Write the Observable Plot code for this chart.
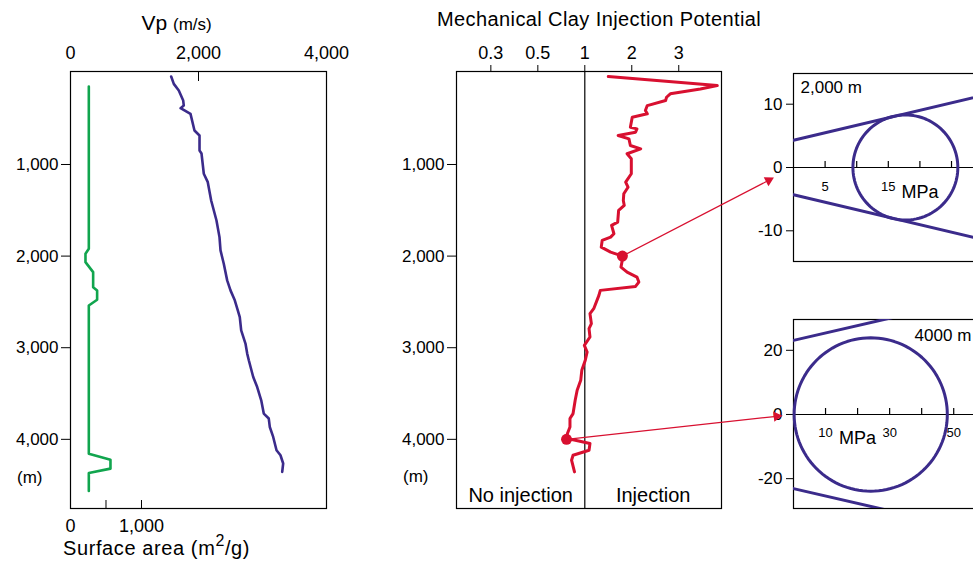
<!DOCTYPE html>
<html>
<head>
<meta charset="utf-8">
<script src="https://cdn.jsdelivr.net/npm/d3@7"></script>
<script src="https://cdn.jsdelivr.net/npm/@observablehq/plot@0.6"></script>
<style>
  html, body { margin: 0; padding: 0; background: #fff; overflow: hidden; }
  #chart { position: relative; width: 973px; height: 563px; overflow: hidden;
           font-family: "Liberation Sans", Arial, Helvetica, sans-serif; color: #000; }
  #chart > svg, #chart > .lbl { position: absolute; }
  .lbl { line-height: 1; white-space: nowrap; }
</style>
</head>
<body>
<div id="chart"></div>
<script>
// ---- Well log data (depth in m) ----
const depthTicks = [1000, 2000, 3000, 4000];
const depthDomain = [-15, 4755];

// Surface area of the clay fraction, m²/g: [depth, area]
const surfaceArea = [
  [150, 258], [1920, 258], [1975, 211], [2066, 211], [2175, 319], [2339, 319],
  [2375, 375], [2476, 375], [2539, 258], [4157, 258], [4222, 563], [4320, 563],
  [4368, 258], [4564, 258]
];
const areaTickMarks = [500, 1000];
const areaTickLabels = [0, 1000];

// P-wave velocity, m/s: [depth, vp]
const vpLog = [
  [40, 1573], [120, 1614], [193, 1692], [302, 1761], [357, 1770], [385, 1720],
  [447, 1875], [629, 1937], [684, 2016], [847, 2016], [880, 2047], [1101, 2083],
  [1193, 2145], [1393, 2198], [1611, 2281], [1793, 2328], [1938, 2344], [2083, 2395],
  [2265, 2448], [2374, 2500], [2483, 2567], [2592, 2614], [2665, 2645], [2810, 2667],
  [2955, 2734], [3064, 2761], [3137, 2786], [3320, 2855], [3429, 2917], [3574, 2980],
  [3719, 3020], [3773, 3098], [3865, 3114], [3974, 3167], [4119, 3219], [4174, 3281],
  [4264, 3323], [4355, 3308]
];
const vpTickLabels = [0, 2000, 4000];
const vpTickMarks = [2000];

// Mechanical clay injection potential (ratio): [depth, potential]
const injectionPotential = [
  [40, 1.50], [138, 3.82], [175, 3.46], [229, 2.82], [266, 2.74], [302, 2.72],
  [357, 2.33], [411, 2.29], [447, 2.33], [484, 2.01], [593, 1.97], [611, 2.11],
  [648, 2.08], [684, 1.71], [720, 1.94], [793, 1.97], [829, 2.19], [883, 1.90],
  [938, 1.99], [1101, 1.99], [1193, 1.87], [1248, 1.92], [1320, 1.83], [1393, 1.82],
  [1447, 1.84], [1502, 1.72], [1629, 1.70], [1665, 1.57], [1756, 1.62], [1793, 1.55],
  [1829, 1.37], [1902, 1.35], [1956, 1.55], [2000, 1.80], [2040, 1.80], [2120, 1.77],
  [2175, 1.90], [2229, 2.11], [2283, 2.15], [2331, 2.08], [2374, 1.33], [2429, 1.30],
  [2574, 1.19], [2628, 1.11], [2738, 1.14], [2792, 1.09], [2883, 1.11], [2974, 0.99],
  [3047, 1.05], [3137, 1.01], [3247, 0.94], [3356, 0.92], [3465, 0.86], [3574, 0.83],
  [3719, 0.80], [3773, 0.76], [3865, 0.76], [3937, 0.73], [4000, 0.72], [4005, 0.80],
  [4045, 1.11], [4119, 1.09], [4174, 0.80], [4228, 0.78], [4355, 0.82]
];
const potentialDomain = [0.268, 3.91];
const potentialTicks = [1 / 3, 0.5, 1, 2, 3];
const potentialTickLabels = ["0.3", "0.5", "1", "2", "3"];
const zones = [
  {label: "No injection", from: potentialDomain[0], to: 1},
  {label: "Injection", from: 1, to: potentialDomain[1]}
];
// Sampled depths shown as Mohr circles
const samples = [{depth: 2000, p: 1.80}, {depth: 4000, p: 0.72}];

// Mohr circles (MPa) with their failure envelopes
const mohr2000 = {label: "2,000 m", sigma3: 9.4, sigma1: 26.0, cohesion: 4.3, friction: 0.237};
const mohr4000 = {label: "4000 m", sigma3: 0.2, sigma1: 48.0, cohesion: 23.1, friction: 0.23};

// ---- Styling ----
const FONT = '"Liberation Sans", Arial, Helvetica, sans-serif';
const GREEN = "#11a54e", PURPLE = "#3b2b8b", RED = "#d81030";
const baseStyle = {fontFamily: FONT, fontSize: "17px", background: "transparent", color: "#000"};
const thousands = d3.format(",");
const chart = document.getElementById("chart");

function place(node, left, top) {
  node.style.left = left + "px";
  node.style.top = top + "px";
  chart.appendChild(node);
  return node;
}
function label(html, left, top, size, extra = "") {
  const div = document.createElement("div");
  div.className = "lbl";
  div.innerHTML = html;
  div.style.cssText = `font-size:${size}px;${extra}`;
  return place(div, left, top);
}

const rows = (arr, key) => arr.map(([depth, v]) => ({depth, [key]: v}));

// ---- Panel 1: surface area (bottom axis) and Vp (top axis) ----
const logFrame = {width: 370, height: 563, marginTop: 71, marginRight: 44, marginBottom: 55, marginLeft: 70, style: baseStyle};

const areaPlot = Plot.plot({
  ...logFrame,
  x: {domain: [0, 3606]},
  y: {domain: depthDomain, reverse: true},
  marks: [
    Plot.frame({strokeWidth: 1.2}),
    Plot.axisY({ticks: depthTicks, tickFormat: thousands, tickSize: 9, tickPadding: 3, label: null}),
    Plot.axisX({anchor: "bottom", ticks: areaTickMarks, tickSize: 8, dy: -8, tickFormat: () => "", label: null}),
    Plot.axisX({anchor: "bottom", ticks: areaTickLabels, tickSize: 0, tickPadding: 11, tickFormat: thousands, label: null, fontSize: 18}),
    Plot.line(rows(surfaceArea, "area"), {x: "area", y: "depth", stroke: GREEN, strokeWidth: 2.6})
  ]
});
place(areaPlot, 0, 0);

const vpPlot = Plot.plot({
  ...logFrame,
  x: {domain: [0, 4000]},
  y: {domain: depthDomain, reverse: true, axis: null},
  marks: [
    Plot.axisX({anchor: "top", ticks: vpTickLabels, tickSize: 0, tickPadding: 13, tickFormat: thousands, label: null, fontSize: 18}),
    Plot.axisX({anchor: "top", ticks: vpTickMarks, tickSize: 9, dy: 9, tickFormat: () => "", label: null}),
    Plot.line(rows(vpLog, "vp"), {x: "vp", y: "depth", stroke: PURPLE, strokeWidth: 2.6})
  ]
});
place(vpPlot, 0, 0);

// ---- Panel 2: injection potential on a symmetric ratio axis ----
const toRatioAxis = (p) => (p >= 1 ? p - 1 : 1 - 1 / p);
const tickText = new Map(potentialTicks.map((p, i) => [Math.round(toRatioAxis(p) * 1e6), potentialTickLabels[i]]));

const potentialPlot = Plot.plot({
  width: 360, height: 563, marginTop: 71, marginRight: 19, marginBottom: 55, marginLeft: 76,
  style: baseStyle,
  x: {domain: potentialDomain.map(toRatioAxis)},
  y: {domain: depthDomain, reverse: true},
  marks: [
    Plot.frame({strokeWidth: 1.2}),
    Plot.ruleX([1], {x: toRatioAxis, strokeWidth: 1.2}),
    Plot.axisY({ticks: depthTicks, tickFormat: thousands, tickSize: 9, tickPadding: 3, label: null}),
    Plot.axisX({anchor: "top", ticks: potentialTicks.map(toRatioAxis), tickSize: 7, tickPadding: 6,
                tickFormat: (u) => tickText.get(Math.round(u * 1e6)), label: null, fontSize: 18}),
    Plot.text(zones, {x: (d) => (toRatioAxis(d.from) + toRatioAxis(d.to)) / 2, text: "label",
                      frameAnchor: "bottom", lineAnchor: "bottom", dy: -7, fontSize: 20}),
    Plot.line(rows(injectionPotential, "p"), {x: (d) => toRatioAxis(d.p), y: "depth", stroke: RED, strokeWidth: 3}),
    Plot.dot(samples, {x: (d) => toRatioAxis(d.p), y: "depth", r: 5.5, fill: RED})
  ]
});
place(potentialPlot, 380, 0);

// ---- Mohr circle panels ----
function mohrPanel(m, o) {
  const center = (m.sigma1 + m.sigma3) / 2, radius = (m.sigma1 - m.sigma3) / 2;
  const circle = d3.range(0, 361, 3).map((a) => ({
    s: center + radius * Math.cos((a * Math.PI) / 180),
    t: radius * Math.sin((a * Math.PI) / 180)
  }));
  const sMax = o.xDomain[1];
  const upper = [{s: 0, t: m.cohesion}, {s: sMax, t: m.cohesion + m.friction * sMax}];
  const lower = upper.map((d) => ({s: d.s, t: -d.t}));
  return Plot.plot({
    width: 260, height: o.height, marginTop: o.marginTop, marginBottom: o.marginBottom,
    marginLeft: 53, marginRight: 0,
    style: baseStyle,
    x: {domain: o.xDomain, axis: null},
    y: {domain: o.yDomain},
    marks: [
      Plot.frame({strokeWidth: 1.2}),
      Plot.ruleY([0], {strokeWidth: 1.2}),
      Plot.ruleX(o.xTicks, {x: (d) => d, y1: 0, y2: 0, insetTop: -6, strokeWidth: 1.2}),
      Plot.axisY({ticks: o.yTicks, tickFormat: (d) => String(d), tickSize: 7, tickPadding: 4, label: null}),
      Plot.text(o.xLabels, {x: (d) => d, y: 0, text: (d) => String(d), dy: 23, lineAnchor: "bottom", fontSize: 13}),
      Plot.text(["MPa"], {x: o.unitAt, y: 0, text: (d) => d, dy: 30, lineAnchor: "bottom", fontSize: 18}),
      Plot.line(upper, {x: "s", y: "t", stroke: PURPLE, strokeWidth: 3, clip: true}),
      Plot.line(lower, {x: "s", y: "t", stroke: PURPLE, strokeWidth: 3, clip: true}),
      Plot.line(circle, {x: "s", y: "t", stroke: PURPLE, strokeWidth: 3}),
      Plot.text([m.label], {text: (d) => d, ...o.labelPos, lineAnchor: "top", textAnchor: "start", fontSize: 17})
    ]
  });
}

const mohrTop = mohrPanel(mohr2000, {
  height: 280, marginTop: 73, marginBottom: 19,
  xDomain: [0, 32.75], yDomain: [-14.85, 14.85],
  xTicks: [5, 10, 15, 20, 25], xLabels: [5, 15], unitAt: 20, yTicks: [-10, 0, 10],
  labelPos: {frameAnchor: "top-left", dx: 7, dy: 7}
});
place(mohrTop, 740, 0);

const mohrBottom = mohrPanel(mohr4000, {
  height: 220, marginTop: 19, marginBottom: 12,
  xDomain: [0, 64.6], yDomain: [-29.3, 29.6],
  xTicks: [10, 20, 30, 40, 50], xLabels: [10, 30, 50], unitAt: 20, yTicks: [-20, 0, 20],
  labelPos: {x: 37.8, frameAnchor: "top", dy: 9}
});
place(mohrBottom, 740, 300);

// ---- Arrows from each sampled depth to the origin of its Mohr diagram ----
const arrowTargets = [
  {plot: mohrTop, left: 740, top: 0, standoff: 22},
  {plot: mohrBottom, left: 740, top: 300, standoff: 11}
];
const headR = 3.8;
const headTip = 2 * Math.sqrt((Math.PI * headR * headR) / (3 * Math.sqrt(3)));
const links = [], heads = [];
samples.forEach((s, i) => {
  const t = arrowTargets[i];
  const x0 = 380 + potentialPlot.scale("x").apply(toRatioAxis(s.p));
  const y0 = potentialPlot.scale("y").apply(s.depth);
  const ox = t.left + t.plot.scale("x").apply(0);
  const oy = t.top + t.plot.scale("y").apply(0);
  const len = Math.hypot(ox - x0, oy - y0);
  const ux = (ox - x0) / len, uy = (oy - y0) / len;
  const tipX = ox - ux * t.standoff, tipY = oy - uy * t.standoff;
  const hx = tipX - ux * headTip, hy = tipY - uy * headTip;
  links.push({x1: x0, y1: y0, x2: hx, y2: hy});
  heads.push({x: hx, y: hy, angle: (Math.atan2(ux, -uy) * 180) / Math.PI});
});
const overlay = Plot.plot({
  width: 973, height: 563, margin: 0,
  style: {background: "transparent"},
  x: {domain: [0, 973], range: [0, 973], axis: null},
  y: {domain: [0, 563], range: [0, 563], axis: null},
  marks: [
    Plot.link(links, {x1: "x1", y1: "y1", x2: "x2", y2: "y2", stroke: RED, strokeWidth: 1.2}),
    Plot.dot(heads, {x: "x", y: "y", symbol: "triangle", r: headR, fill: RED, stroke: "none", rotate: "angle"})
  ]
});
overlay.style.pointerEvents = "none";
place(overlay, 0, 0);

// ---- Titles and axis names ----
label('Vp <span style="font-size:17px">(m/s)</span>', 141.5, 12.2, 21);
label("Mechanical Clay Injection Potential", 437, 8.8, 20, "letter-spacing:0.4px");
label('Surface area (m<span style="font-size:16px;position:relative;top:-9px">2</span>/g)', 63, 538, 20, "letter-spacing:0.6px");
label("(m)", 17, 469, 17);
label("(m)", 403, 468, 17);
</script>
</body>
</html>
